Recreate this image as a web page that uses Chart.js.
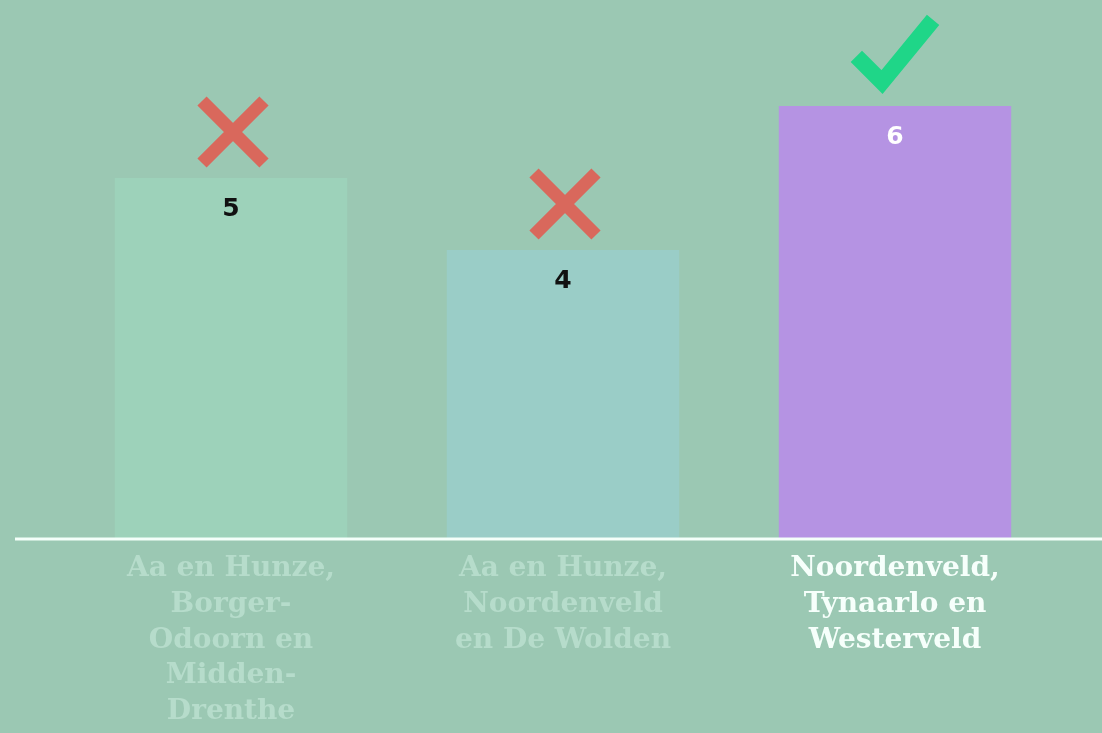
<!DOCTYPE html>
<html>
<head>
<meta charset="utf-8">
<script src="https://cdn.jsdelivr.net/npm/chart.js@4/dist/chart.umd.min.js"></script>
<style>
  html, body { margin: 0; padding: 0; background: #9bc8b3; }
  #wrap { width: 1102px; height: 733px; position: relative; }
</style>
</head>
<body>
<div id="wrap"><canvas id="myGraph" width="1102" height="733"></canvas></div>
<script>
// chart data
const categories = [
  ["Aa en Hunze,", "Borger-", "Odoorn en", "Midden-", "Drenthe"],
  ["Aa en Hunze,", "Noordenveld", "en De Wolden"],
  ["Noordenveld,", "Tynaarlo en", "Westerveld"]
];
const seats = [5, 4, 6];
const verdicts = ["cross", "cross", "check"];

const barColors = ["#9dd2ba", "#9acdc7", "#b593e3"];
const valueColors = ["#111111", "#111111", "#ffffff"];
const tickColors = ["#b6dccb", "#b6dccb", "#f6fffb"];

const labelFont = "DejaVu Serif";
const valueFont = "bold 25px 'DejaVu Sans'";

// white base line running across the whole width
const baseLine = {
  id: "baseLine",
  afterDatasetsDraw(chart) {
    const ctx = chart.ctx;
    const y = chart.chartArea.bottom + 1;
    ctx.save();
    ctx.strokeStyle = "#f4fffa";
    ctx.lineWidth = 3;
    ctx.beginPath();
    ctx.moveTo(15, y);
    ctx.lineTo(chart.width, y);
    ctx.stroke();
    ctx.restore();
  }
};

// value inside bar + cross / check above bar
const barMarks = {
  id: "barMarks",
  afterDatasetsDraw(chart) {
    const ctx = chart.ctx;
    const meta = chart.getDatasetMeta(0);
    ctx.save();
    meta.data.forEach((bar, i) => {
      ctx.fillStyle = valueColors[i];
      ctx.font = valueFont;
      ctx.textAlign = "center";
      ctx.textBaseline = "middle";
      ctx.fillText(String(seats[i]), bar.x, bar.y + 31);

      if (verdicts[i] == "cross") {
        const cx = bar.x + 2, cy = bar.y - 46, r = 31;
        ctx.lineCap = "butt";
        ctx.strokeStyle = "#d9685c";
        ctx.lineWidth = 13;
        ctx.beginPath();
        ctx.moveTo(cx - r, cy - r);
        ctx.lineTo(cx + r, cy + r);
        ctx.moveTo(cx + r, cy - r);
        ctx.lineTo(cx - r, cy + r);
        ctx.stroke();
      } else {
        ctx.strokeStyle = "#1fd688";
        ctx.lineWidth = 16;
        ctx.lineCap = "square";
        ctx.lineJoin = "miter";
        ctx.beginPath();
        ctx.moveTo(bar.x - 33, bar.y - 44);
        ctx.lineTo(bar.x - 13, bar.y - 24);
        ctx.lineTo(bar.x + 33, bar.y - 80);
        ctx.stroke();
      }
    });
    ctx.restore();
  }
};

function drawChart() {
  new Chart(document.getElementById("myGraph"), {
    type: "bar",
    data: {
      labels: categories,
      datasets: [
        {
          label: "zetels",
          data: seats,
          backgroundColor: barColors,
          borderWidth: 0,
          categoryPercentage: 1,
          barPercentage: 0.7
        }
      ]
    },
    options: {
      responsive: false,
      animation: false,
      layout: { padding: { top: 34, left: 65, right: 41, bottom: 0 } },
      plugins: {
        legend: { display: false },
        tooltip: { enabled: false }
      },
      scales: {
        x: {
          grid: { display: false },
          border: { display: false },
          ticks: {
            padding: 5,
            color: tickColors,
            font: { family: "'" + labelFont + "'", size: 28, weight: "bold", lineHeight: 1.275 },
            maxRotation: 0,
            autoSkip: false
          },
          afterFit(scale) {
            scale.height = 195;
          }
        },
        y: {
          display: false,
          min: 0,
          max: 7
        }
      }
    },
    plugins: [baseLine, barMarks]
  });
}

// make sure the local fonts are ready before drawing
Promise.all([
  document.fonts.load("bold 28px '" + labelFont + "'"),
  document.fonts.load(valueFont)
]).then(drawChart, drawChart);
</script>
</body>
</html>
